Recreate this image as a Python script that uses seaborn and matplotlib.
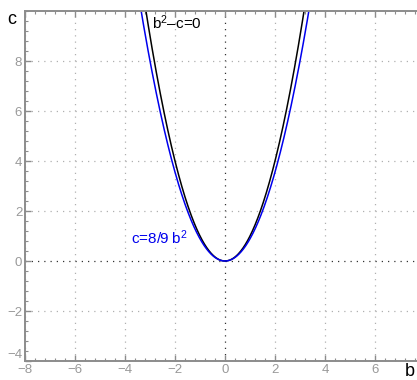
import numpy as np
import pandas as pd
import matplotlib
matplotlib.use("Agg")
import matplotlib.pyplot as plt
import seaborn as sns
from matplotlib.ticker import MultipleLocator

sns.set_theme(style="white")
plt.rcParams['font.family'] = ['Liberation Sans', 'DejaVu Sans']
plt.rcParams['mathtext.fontset'] = 'custom'
plt.rcParams['mathtext.rm'] = 'Liberation Sans'
plt.rcParams['mathtext.it'] = 'Liberation Sans'

# Data
b_values = np.linspace(-3.6, 3.6, 401)
c_parabola = b_values ** 2            # b^2 - c = 0
c_scaled = 8.0 / 9.0 * b_values ** 2  # c = 8/9 b^2
x_ticks = [-8, -6, -4, -2, 0, 2, 4, 6]
y_ticks = [-4, -2, 0, 2, 4, 6, 8]

df = pd.DataFrame({
    "b": np.concatenate([b_values, b_values]),
    "c": np.concatenate([c_parabola, c_scaled]),
    "curve": ["black"] * len(b_values) + ["blue"] * len(b_values),
})

fig = plt.figure(figsize=(4.17, 3.80), dpi=100)
ax = fig.add_axes([25 / 417, 19 / 380, 392 / 417, 350 / 380])

grey = "#8c8c8c"
for t in x_ticks:
    ax.axvline(t, color="#333333" if t == 0 else "#b0b0b0", lw=0.9,
               ls=(0, (1, 4)), zorder=0)
for t in y_ticks:
    ax.axhline(t, color="#333333" if t == 0 else "#b0b0b0", lw=0.9,
               ls=(0, (1, 4)), zorder=0)

sns.lineplot(data=df, x="b", y="c", hue="curve",
             palette={"black": "black", "blue": "#0000ee"},
             linewidth=1.1, legend=False, ax=ax, sort=False)

ax.set_xlim(-8, 7.68)
ax.set_ylim(-4, 10)
ax.set_xticks(x_ticks)
ax.set_yticks(y_ticks)
ax.set_xticklabels([str(t).replace("-", "\u2212") for t in x_ticks])
ax.set_yticklabels([str(t).replace("-", "\u2212") for t in y_ticks])
ax.xaxis.set_minor_locator(MultipleLocator(0.4))
ax.yaxis.set_minor_locator(MultipleLocator(0.4))
ax.tick_params(which="major", direction="in", length=4, width=1, color=grey,
               labelcolor="#999999", labelsize=9.5, top=True, bottom=True,
               left=True, right=False, pad=2)
ax.tick_params(which="minor", direction="in", length=2, width=0.8, color=grey,
               top=True, bottom=True, left=True, right=False)
ax.set_xlabel("")
ax.set_ylabel("")
ylabels = ax.get_yticklabels()
ylabels[0].set_verticalalignment("bottom")

for side in ["left", "bottom", "top"]:
    ax.spines[side].set_color(grey)
    ax.spines[side].set_linewidth(1.4)
ax.spines["right"].set_visible(False)

ax.text(-2.9, 9.55, "b$^2$\u2013c=0", color="black", fontsize=11,
        ha="left", va="center")
ax.text(-3.75, 0.95, "c=8/9 b$^2$", color="#0000ee", fontsize=11,
        ha="left", va="center")

fig.text(12 / 417, 1 - 20 / 380, "c", fontsize=13, color="black",
         ha="center", va="center")
fig.text(410 / 417, 1 - 371 / 380, "b", fontsize=13, color="black",
         ha="center", va="center")

fig.savefig("out.png", dpi=100)
